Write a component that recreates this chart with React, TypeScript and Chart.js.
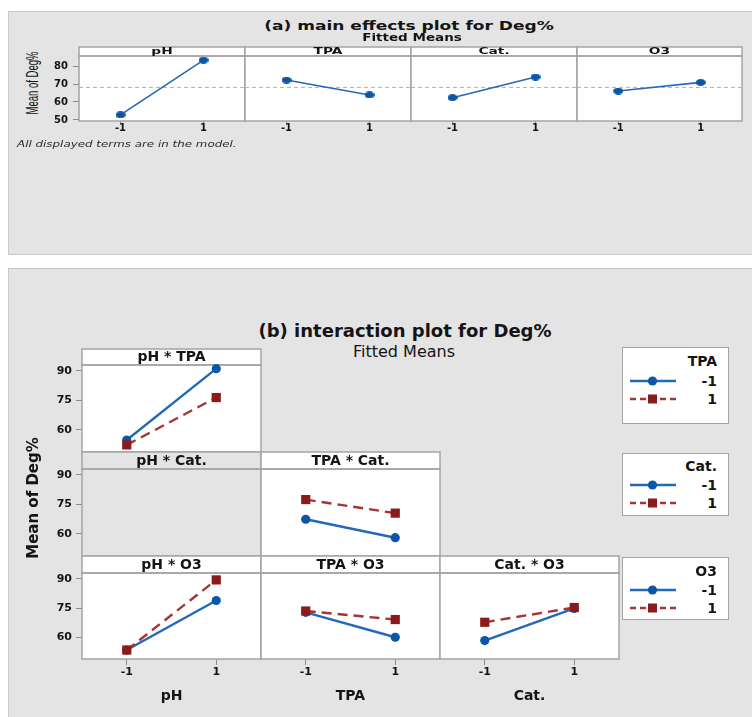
import React, { useEffect, useRef } from "react";
import { Chart, registerables } from "chart.js";

Chart.register(...registerables);

// ---------------- data ----------------
const LEVELS = [-1, 1];
const LEVEL_LABELS = ["-1", "1"];
const X_RANGE = [-2, 2];

const MAIN_FACTORS = ["pH", "TPA", "Cat.", "O3"];
const MAIN_PH = [52.8, 83.3];
const MAIN_TPA = [72.2, 63.9];
const MAIN_CAT = [62.4, 73.9];
const MAIN_O3 = [66.1, 70.9];
const GRAND_MEAN = 68.1;
const MAIN_Y_TICKS = [50, 60, 70, 80];
const MAIN_Y_RANGE = [49.4, 85.6];

const INT_Y_TICKS = [60, 75, 90];
const INT_Y_RANGE = [48.8, 93.05];
// "LOW" = second factor at -1 (blue), "HIGH" = second factor at 1 (red)
const PH_TPA_LOW = [54.9, 91.2];
const PH_TPA_HIGH = [52.4, 76.5];
const TPA_CAT_LOW = [67.5, 58.1];
const TPA_CAT_HIGH = [77.5, 70.6];
const PH_O3_LOW = [53.4, 78.9];
const PH_O3_HIGH = [53.4, 89.5];
const TPA_O3_LOW = [72.8, 60.0];
const TPA_O3_HIGH = [73.5, 69.1];
const CAT_O3_LOW = [58.3, 74.8];
const CAT_O3_HIGH = [67.7, 75.3];
const INT_X_FACTORS = ["pH", "TPA", "Cat."];
const LEGEND_FACTORS = ["TPA", "Cat.", "O3"];

// ---------------- style ----------------
const FONT = '"DejaVu Sans", Verdana, sans-serif';
const BG = "#e4e4e4";
const FRAME = "#c9c9c9";
const PANEL_LINE = "#a4a4a4";
const TICK_LINE = "#8c8c8c";
const TEXT = "#141414";
const BLUE_LINE = "#2469b8";
const BLUE_MARK = "#0a57a8";
const RED_LINE = "#a63434";
const RED_MARK = "#8c1a1a";

// ---------------- plugin ----------------
const panelDecor = {
  id: "panelDecor",
  beforeDraw(chart: any, _a: any, o: any) {
    const { ctx, chartArea: ca } = chart;
    ctx.save();
    ctx.fillStyle = o.plotFill;
    ctx.fillRect(ca.left, ca.top, ca.right - ca.left, ca.bottom - ca.top);
    ctx.fillStyle = o.stripFill;
    ctx.fillRect(ca.left, ca.top - o.stripH, ca.right - ca.left, o.stripH);
    ctx.restore();
  },
  beforeDatasetsDraw(chart: any, _a: any, o: any) {
    const { ctx, chartArea: ca } = chart;
    ctx.save();
    ctx.strokeStyle = o.lineColor;
    ctx.lineWidth = o.lineWidth;
    ctx.strokeRect(ca.left, ca.top - o.stripH, ca.right - ca.left, o.stripH);
    ctx.strokeRect(ca.left, ca.top, ca.right - ca.left, ca.bottom - ca.top);
    ctx.fillStyle = o.textColor;
    ctx.font = o.font;
    ctx.textAlign = "center";
    ctx.textBaseline = "middle";
    ctx.translate((ca.left + ca.right) / 2, ca.top - o.stripH / 2 + o.textDy);
    ctx.scale(o.textScaleX, 1);
    ctx.fillText(o.label, 0, 0);
    ctx.restore();
  },
};

function ellipseMarker(color: string, w: number, h: number) {
  const c = document.createElement("canvas");
  c.width = w;
  c.height = h;
  const g = c.getContext("2d")!;
  g.fillStyle = color;
  g.beginPath();
  g.ellipse(w / 2, h / 2, w / 2, h / 2, 0, 0, Math.PI * 2);
  g.fill();
  return c;
}

type PanelSpec = {
  key: string;
  plotLeft: number;
  plotW: number;
  stripTop: number;
  stripH: number;
  plotH: number;
  yAxisW: number;
  xAxisH: number;
  yRange: number[];
  yTicks: number[] | null;
  showX: boolean;
  label: string;
  stripFill: string;
  plotFill: string;
  variant: "main" | "int";
  makeDatasets: () => any[];
};

function Panel({ spec }: { spec: PanelSpec }) {
  const ref = useRef<HTMLCanvasElement>(null);
  const W = 1 + spec.yAxisW + spec.plotW + 1;
  const xH = spec.showX ? spec.xAxisH : 0;
  const H = 1 + spec.stripH + spec.plotH + xH + 1;
  const isMain = spec.variant === "main";
  useEffect(() => {
    const tickFont = { family: FONT, weight: "bold" as const, size: isMain ? 10 : 11 };
    const chart = new Chart(ref.current!, {
      type: "line",
      data: { datasets: spec.makeDatasets() },
      options: {
        animation: false,
        responsive: false,
        maintainAspectRatio: false,
        devicePixelRatio: 1,
        events: [],
        layout: {
          autoPadding: false,
          padding: { left: 1, right: 1, top: 1 + spec.stripH, bottom: 1 },
        },
        plugins: {
          legend: { display: false },
          tooltip: { enabled: false },
          title: { display: false },
          panelDecor: {
            plotFill: spec.plotFill,
            stripFill: spec.stripFill,
            stripH: spec.stripH,
            lineColor: PANEL_LINE,
            lineWidth: 1.5,
            textColor: TEXT,
            font: isMain ? `bold 9.5px ${FONT}` : `bold 14px ${FONT}`,
            textScaleX: isMain ? 1.45 : 1,
            textDy: 0.5,
            label: spec.label,
          },
        } as any,
        scales: {
          x: {
            type: "linear",
            min: X_RANGE[0],
            max: X_RANGE[1],
            display: spec.showX,
            afterBuildTicks: (s: any) => {
              s.ticks = LEVELS.map((v) => ({ value: v }));
            },
            afterFit: (s: any) => {
              s.height = spec.showX ? spec.xAxisH : 0;
              s.paddingLeft = 0;
              s.paddingRight = 0;
            },
            grid: {
              drawOnChartArea: false,
              drawTicks: true,
              tickLength: isMain ? 3 : 6,
              color: TICK_LINE,
              lineWidth: 1,
            },
            border: { display: false },
            ticks: {
              font: tickFont,
              color: TEXT,
              padding: isMain ? -2 : 1,
              autoSkip: false,
              maxRotation: 0,
              callback: (v: any) => {
                const i = LEVELS.indexOf(Number(v));
                return i >= 0 ? LEVEL_LABELS[i] : "";
              },
            },
          },
          y: {
            type: "linear",
            min: spec.yRange[0],
            max: spec.yRange[1],
            display: !!spec.yTicks,
            afterBuildTicks: (s: any) => {
              s.ticks = (spec.yTicks || []).map((v) => ({ value: v }));
            },
            afterFit: (s: any) => {
              s.width = spec.yTicks ? spec.yAxisW : 0;
              s.paddingTop = 0;
              s.paddingBottom = 0;
            },
            grid: {
              drawOnChartArea: false,
              drawTicks: true,
              tickLength: 6,
              color: TICK_LINE,
              lineWidth: 1,
            },
            border: { display: false },
            ticks: {
              font: tickFont,
              color: TEXT,
              padding: isMain ? 5 : 4,
              autoSkip: false,
              callback: (v: any) => String(v),
            },
          },
        },
      },
      plugins: [panelDecor],
    });
    return () => chart.destroy();
  }, []);
  return (
    <canvas
      ref={ref}
      width={W}
      height={H}
      style={{
        position: "absolute",
        left: spec.plotLeft - spec.yAxisW - 1,
        top: spec.stripTop - 1,
        width: W,
        height: H,
      }}
    />
  );
}

// ---------------- layout ----------------
const MAIN_COL_EDGES = [79, 245, 411, 577, 742];
const MAIN_STRIP_TOP = 47;
const MAIN_STRIP_H = 9;
const MAIN_PLOT_H = 65;

const INT_COL_EDGES = [82, 261, 440, 619];
const INT_ROW_TOPS = [349, 452, 556];
const INT_STRIP_H = [16, 17, 17];
const INT_PLOT_H = [87, 87, 86];

const MAIN_SERIES = [MAIN_PH, MAIN_TPA, MAIN_CAT, MAIN_O3];

function mainDatasets(values: number[]) {
  return () => [
    {
      data: X_RANGE.map((x) => ({ x, y: GRAND_MEAN })),
      borderColor: "#b2b2b2",
      borderWidth: 1,
      borderDash: [4, 3],
      pointRadius: 0,
      order: 2,
      clip: false,
    },
    {
      data: LEVELS.map((x, i) => ({ x, y: values[i] })),
      borderColor: BLUE_LINE,
      borderWidth: 1.6,
      pointStyle: ellipseMarker(BLUE_MARK, 10, 7),
      pointRadius: 5,
      order: 0,
      clip: false,
    },
  ];
}

function intDatasets(low: number[] | null, high: number[] | null) {
  return () => {
    if (!low || !high) return [];
    return [
      {
        data: LEVELS.map((x, i) => ({ x, y: low[i] })),
        borderColor: BLUE_LINE,
        borderWidth: 2.4,
        pointStyle: "circle",
        pointRadius: 4.6,
        pointBackgroundColor: BLUE_MARK,
        pointBorderColor: BLUE_MARK,
        pointBorderWidth: 0,
        order: 1,
        clip: false,
      },
      {
        data: LEVELS.map((x, i) => ({ x, y: high[i] })),
        borderColor: RED_LINE,
        borderWidth: 2.4,
        borderDash: [10, 6],
        pointStyle: "rect",
        pointRadius: 6.5,
        pointBackgroundColor: RED_MARK,
        pointBorderColor: RED_MARK,
        pointBorderWidth: 0,
        order: 0,
        clip: false,
      },
    ];
  };
}

const INT_CELLS: { row: number; col: number; label: string; low: number[] | null; high: number[] | null }[] = [
  { row: 0, col: 0, label: "pH * TPA", low: PH_TPA_LOW, high: PH_TPA_HIGH },
  { row: 1, col: 0, label: "pH * Cat.", low: null, high: null },
  { row: 1, col: 1, label: "TPA * Cat.", low: TPA_CAT_LOW, high: TPA_CAT_HIGH },
  { row: 2, col: 0, label: "pH * O3", low: PH_O3_LOW, high: PH_O3_HIGH },
  { row: 2, col: 1, label: "TPA * O3", low: TPA_O3_LOW, high: TPA_O3_HIGH },
  { row: 2, col: 2, label: "Cat. * O3", low: CAT_O3_LOW, high: CAT_O3_HIGH },
];

const MAIN_SPECS: PanelSpec[] = MAIN_FACTORS.map((f, i) => ({
  key: "m" + i,
  plotLeft: MAIN_COL_EDGES[i],
  plotW: MAIN_COL_EDGES[i + 1] - MAIN_COL_EDGES[i],
  stripTop: MAIN_STRIP_TOP,
  stripH: MAIN_STRIP_H,
  plotH: MAIN_PLOT_H,
  yAxisW: i === 0 ? 30 : 0,
  xAxisH: 18,
  yRange: MAIN_Y_RANGE,
  yTicks: i === 0 ? MAIN_Y_TICKS : null,
  showX: true,
  label: f,
  stripFill: "#ffffff",
  plotFill: "#ffffff",
  variant: "main",
  makeDatasets: mainDatasets(MAIN_SERIES[i]),
}));

const INT_SPECS: PanelSpec[] = INT_CELLS.map((c, i) => ({
  key: "i" + i,
  plotLeft: INT_COL_EDGES[c.col],
  plotW: INT_COL_EDGES[c.col + 1] - INT_COL_EDGES[c.col],
  stripTop: INT_ROW_TOPS[c.row],
  stripH: INT_STRIP_H[c.row],
  plotH: INT_PLOT_H[c.row],
  yAxisW: c.col === 0 ? 32 : 0,
  xAxisH: 22,
  yRange: INT_Y_RANGE,
  yTicks: c.col === 0 ? INT_Y_TICKS : null,
  showX: c.row === 2,
  label: c.label,
  stripFill: c.low ? "#ffffff" : BG,
  plotFill: c.low ? "#ffffff" : BG,
  variant: "int",
  makeDatasets: intDatasets(c.low, c.high),
}));

// ---------------- text helpers ----------------
function Txt({
  x,
  y,
  children,
  style,
  extra = "",
}: {
  x: number;
  y: number;
  children: React.ReactNode;
  style?: React.CSSProperties;
  extra?: string;
}) {
  return (
    <div
      style={{
        position: "absolute",
        left: x,
        top: y,
        transform: `translate(-50%, -50%) ${extra}`,
        whiteSpace: "nowrap",
        lineHeight: 1,
        color: TEXT,
        fontFamily: FONT,
        ...style,
      }}
    >
      {children}
    </div>
  );
}

function LegendSample({ x, y, red }: { x: number; y: number; red: boolean }) {
  return (
    <svg
      width={50}
      height={12}
      style={{ position: "absolute", left: x, top: y - 6 }}
      viewBox="0 0 50 12"
    >
      {red ? (
        <>
          <line x1={1} y1={6} x2={47} y2={6} stroke={RED_LINE} strokeWidth={2.5} strokeDasharray="6 4" />
          <rect x={19} y={1.5} width={9} height={9} fill={RED_MARK} />
        </>
      ) : (
        <>
          <line x1={1} y1={6} x2={47} y2={6} stroke={BLUE_LINE} strokeWidth={2.5} />
          <circle cx={23.5} cy={6} r={4.6} fill={BLUE_MARK} />
        </>
      )}
    </svg>
  );
}

const LEGEND_BOXES = [
  { top: 347, height: 77, titleY: 361, rowY: [381, 399] },
  { top: 453, height: 63, titleY: 466, rowY: [485, 503] },
  { top: 557, height: 63, titleY: 571, rowY: [590, 608] },
];

function Legend({ idx }: { idx: number }) {
  const b = LEGEND_BOXES[idx];
  const right = 729;
  const lab: React.CSSProperties = {
    position: "absolute",
    right: 752 - 717,
    fontFamily: FONT,
    fontWeight: "bold",
    fontSize: 14,
    lineHeight: 1,
    color: TEXT,
    transform: "translateY(-50%)",
    whiteSpace: "nowrap",
  };
  return (
    <>
      <div
        style={{
          position: "absolute",
          left: 622,
          top: b.top,
          width: right - 622,
          height: b.height,
          background: "#ffffff",
          border: `1px solid ${PANEL_LINE}`,
          boxSizing: "border-box",
        }}
      />
      <div style={{ ...lab, top: b.titleY }}>{LEGEND_FACTORS[idx]}</div>
      {LEVEL_LABELS.map((l, i) => (
        <React.Fragment key={l}>
          <LegendSample x={629} y={b.rowY[i]} red={i === 1} />
          <div style={{ ...lab, top: b.rowY[i] }}>{l}</div>
        </React.Fragment>
      ))}
    </>
  );
}

export default function App() {
  return (
    <div
      style={{
        position: "fixed",
        left: 0,
        top: 0,
        width: 752,
        height: 717,
        overflow: "hidden",
        background: "#ffffff",
      }}
    >
      {/* top gray frame */}
      <div
        style={{
          position: "absolute",
          left: 8,
          top: 11,
          width: 750,
          height: 244,
          background: BG,
          border: `1px solid ${FRAME}`,
          boxSizing: "border-box",
        }}
      />
      {/* bottom gray frame */}
      <div
        style={{
          position: "absolute",
          left: 8,
          top: 268,
          width: 750,
          height: 460,
          background: BG,
          border: `1px solid ${FRAME}`,
          boxSizing: "border-box",
        }}
      />

      {MAIN_SPECS.map((s) => (
        <Panel key={s.key} spec={s} />
      ))}
      {INT_SPECS.map((s) => (
        <Panel key={s.key} spec={s} />
      ))}

      {/* top texts */}
      <Txt x={409} y={26} style={{ fontWeight: "bold", fontSize: 12 }} extra="scaleX(1.42)">
        (a) main effects plot for Deg%
      </Txt>
      <Txt x={412} y={37.5} style={{ fontWeight: "bold", fontSize: 10 }} extra="scaleX(1.35)">
        Fitted Means
      </Txt>
      <Txt
        x={33}
        y={83}
        style={{ fontFamily: '"Liberation Sans", Arial, sans-serif', fontSize: 9.5 }}
        extra="rotate(-90deg) scaleY(1.65)"
      >
        Mean of Deg%
      </Txt>
      <div
        style={{
          position: "absolute",
          left: 17,
          top: 144,
          transform: "translateY(-50%) scaleX(1.32)",
          transformOrigin: "left center",
          fontFamily: FONT,
          fontStyle: "italic",
          fontSize: 9,
          lineHeight: 1,
          color: "#2a2a2a",
          whiteSpace: "nowrap",
        }}
      >
        All displayed terms are in the model.
      </div>

      {/* bottom texts */}
      <Txt x={405} y={331} style={{ fontWeight: "bold", fontSize: 18 }}>
        (b) interaction plot for Deg%
      </Txt>
      <Txt x={404} y={352} style={{ fontSize: 16 }}>
        Fitted Means
      </Txt>
      <Txt x={33} y={498} style={{ fontWeight: "bold", fontSize: 15 }} extra="rotate(-90deg)">
        Mean of Deg%
      </Txt>
      {INT_X_FACTORS.map((f, i) => (
        <Txt
          key={f}
          x={(INT_COL_EDGES[i] + INT_COL_EDGES[i + 1]) / 2}
          y={695}
          style={{ fontWeight: "bold", fontSize: 14 }}
        >
          {f}
        </Txt>
      ))}
      {LEGEND_FACTORS.map((_, i) => (
        <Legend key={i} idx={i} />
      ))}
    </div>
  );
}
